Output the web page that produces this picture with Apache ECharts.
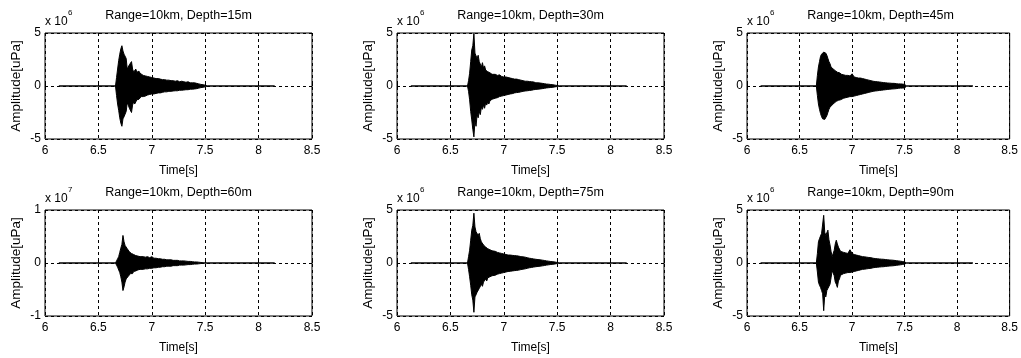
<!DOCTYPE html>
<html><head><meta charset="utf-8">
<script src="https://cdn.jsdelivr.net/npm/echarts/dist/echarts.min.js"></script>
<style>html,body{margin:0;padding:0;background:#fff}#c{width:1021px;height:358px}</style>
</head><body><div id="c"></div><script>
const TIME = [6.13,
  6.66,6.67,6.68,6.69,6.70,6.71,6.72,6.73,6.74,6.75,6.76,6.77,6.78,6.79,6.80,6.81,6.82,6.83,6.84,6.85,6.86,6.87,6.88,6.89,6.90,
  6.92,6.94,6.96,6.98,7.00,7.02,7.04,7.06,7.08,7.10,7.12,7.14,7.16,7.18,7.20,7.22,7.24,7.26,7.28,7.30,7.32,7.34,7.36,7.38,7.40,7.42,7.44,7.46,7.48,7.50,7.52,
  8.15];

const TITLES = ["Range=10km, Depth=15m","Range=10km, Depth=30m","Range=10km, Depth=45m",
                "Range=10km, Depth=60m","Range=10km, Depth=75m","Range=10km, Depth=90m"];
const EXPONENTS = [6,6,6,7,6,6];     // axis multiplier x 10^n
const Y_LIMITS = [5,5,5,1,5,5];      // y axis +/- limit (in multiplier units)
const X_MIN = 6, X_MAX = 8.5, X_STEP = 0.5;
const X_NAME = "Time[s]", Y_NAME = "Amplitude[uPa]";

// Upper / lower envelopes (in units of 10^EXPONENT uPa)
const UP_15 = [0, 0,0.8,1.6,2.4,3.0,3.5,3.8,3.3,3.0,3.0,2.6,1.6,1.5,2.0,1.9,2.3,1.6,1.3,1.4,1.6,1.3,1.2,1.4,1.2,1.05,
  1.0,0.95,0.9,0.85,0.8,0.75,0.7,0.7,0.65,0.6,0.6,0.55,0.55,0.5,0.5,0.45,0.5,0.4,0.45,0.4,0.35,0.4,0.3,0.3,0.3,0.25,0.2,0.15,0.12,0.08,0, 0];
const LO_15 = [0, 0,-0.9,-1.7,-2.3,-3.0,-3.5,-3.8,-3.1,-2.9,-2.8,-2.4,-1.6,-1.8,-2.1,-2.0,-2.5,-1.8,-1.5,-1.7,-1.8,-1.3,-1.3,-1.25,-1.15,-1.0,
  -1.0,-0.95,-0.85,-0.8,-0.75,-0.75,-0.7,-0.65,-0.65,-0.6,-0.55,-0.55,-0.5,-0.5,-0.47,-0.45,-0.45,-0.4,-0.4,-0.38,-0.35,-0.35,-0.3,-0.3,-0.28,-0.25,-0.2,-0.15,-0.12,-0.08,0, 0];

const UP_30 = [0, 0,0.5,1.2,2.3,3.4,3.8,4.95,3.1,3.2,2.6,2.9,2.3,2.4,1.8,2.2,1.7,1.9,1.5,1.65,1.35,1.5,1.25,1.35,1.1,1.25,
  1.1,1.0,1.05,0.9,0.85,0.85,0.8,0.75,0.7,0.65,0.65,0.6,0.55,0.5,0.45,0.45,0.42,0.4,0.38,0.3,0.3,0.28,0.25,0.22,0.18,0.17,0.14,0.12,0.08,0.05,0, 0];
const LO_30 = [0, 0,-0.5,-1.3,-2.4,-3.2,-4.1,-4.8,-3.3,-3.8,-2.7,-3.0,-2.4,-2.7,-2.0,-2.2,-1.8,-2.1,-1.6,-1.8,-1.5,-1.7,-1.4,-1.5,-1.25,-1.3,
  -1.15,-1.1,-1.0,-0.95,-0.9,-0.85,-0.8,-0.75,-0.72,-0.65,-0.62,-0.6,-0.55,-0.5,-0.47,-0.45,-0.42,-0.4,-0.35,-0.32,-0.3,-0.28,-0.25,-0.22,-0.18,-0.16,-0.14,-0.12,-0.08,-0.05,0, 0];

const UP_45 = [0, 0,1.0,1.8,2.3,2.8,3.0,3.1,3.2,3.3,3.1,2.9,2.6,2.3,2.1,1.8,1.75,1.6,1.5,1.45,1.35,1.3,1.2,1.25,1.1,1.1,
  1.05,1.0,1.0,0.95,1.15,0.85,0.8,0.75,0.75,0.7,0.65,0.6,0.55,0.5,0.45,0.42,0.4,0.38,0.35,0.32,0.3,0.28,0.27,0.25,0.25,0.22,0.2,0.2,0.18,0.15,0, 0];
const LO_45 = [0, 0,-0.9,-1.7,-2.2,-2.6,-2.9,-3.1,-3.2,-3.15,-3.0,-2.8,-2.5,-2.2,-2.0,-1.9,-1.8,-1.7,-1.6,-1.5,-1.45,-1.4,-1.35,-1.3,-1.3,-1.2,
  -1.15,-1.1,-1.05,-1.0,-1.0,-0.95,-0.9,-0.85,-0.8,-0.75,-0.7,-0.65,-0.6,-0.55,-0.5,-0.47,-0.45,-0.42,-0.4,-0.37,-0.35,-0.32,-0.3,-0.28,-0.27,-0.25,-0.22,-0.2,-0.2,-0.18,0, 0];

const UP_60 = [0, 0,0.04,0.08,0.12,0.2,0.28,0.35,0.52,0.4,0.33,0.3,0.27,0.25,0.21,0.2,0.18,0.2,0.16,0.16,0.14,0.15,0.13,0.14,0.12,0.13,
  0.12,0.11,0.12,0.1,0.12,0.09,0.09,0.08,0.08,0.07,0.07,0.06,0.06,0.06,0.05,0.05,0.05,0.04,0.04,0.04,0.035,0.03,0.03,0.025,0.02,0.02,0.015,0.01,0.005,0,0, 0];
const LO_60 = [0, 0,-0.04,-0.08,-0.11,-0.18,-0.26,-0.36,-0.52,-0.45,-0.36,-0.3,-0.28,-0.25,-0.22,-0.2,-0.18,-0.2,-0.16,-0.17,-0.15,-0.15,-0.13,-0.14,-0.12,-0.12,
  -0.12,-0.11,-0.11,-0.1,-0.1,-0.09,-0.09,-0.08,-0.08,-0.07,-0.07,-0.06,-0.06,-0.06,-0.05,-0.05,-0.05,-0.04,-0.04,-0.04,-0.035,-0.03,-0.03,-0.025,-0.02,-0.02,-0.015,-0.01,-0.005,0,0, 0];

const UP_75 = [0, 0,0.6,1.2,2.15,3.1,3.55,4.7,3.4,2.95,3.1,2.6,2.8,2.3,2.0,2.15,1.7,1.85,1.5,1.65,1.35,1.5,1.25,1.35,1.15,1.2,
  1.1,1.0,0.95,0.9,0.85,0.8,0.75,0.75,0.72,0.7,0.68,0.65,0.6,0.58,0.55,0.5,0.45,0.42,0.38,0.35,0.32,0.3,0.27,0.24,0.2,0.17,0.14,0.12,0.09,0.05,0, 0];
const LO_75 = [0, 0,-0.6,-1.3,-2.1,-3.0,-3.5,-4.65,-3.2,-3.0,-2.75,-2.9,-2.4,-2.3,-2.0,-2.2,-1.8,-1.8,-1.5,-1.7,-1.4,-1.5,-1.3,-1.3,-1.2,-1.2,
  -1.15,-1.05,-1.0,-0.95,-0.9,-0.85,-0.8,-0.78,-0.75,-0.72,-0.7,-0.67,-0.62,-0.58,-0.55,-0.5,-0.45,-0.42,-0.38,-0.35,-0.32,-0.3,-0.27,-0.24,-0.2,-0.17,-0.14,-0.12,-0.09,-0.05,0, 0];

const UP_90 = [0, 0,0.9,2.0,2.3,2.45,2.8,2.95,4.5,2.9,2.6,2.5,3.1,2.2,1.7,1.1,0.6,0.6,1.2,1.8,2.15,1.8,1.5,1.35,1.1,1.05,
  1.0,0.95,0.9,1.25,0.9,0.8,0.75,0.7,0.65,0.6,0.58,0.55,0.52,0.5,0.45,0.42,0.4,0.38,0.36,0.35,0.32,0.3,0.28,0.27,0.25,0.22,0.2,0.17,0.14,0.1,0, 0];
const LO_90 = [0, 0,-0.85,-1.8,-2.1,-2.3,-2.6,-2.9,-4.5,-3.0,-3.2,-2.6,-2.4,-2.3,-2.0,-1.4,-0.7,-0.6,-1.2,-1.8,-2.0,-2.3,-1.7,-1.5,-1.15,-1.0,
  -1.0,-0.95,-0.9,-0.9,-0.85,-0.8,-0.75,-0.7,-0.65,-0.6,-0.58,-0.55,-0.52,-0.5,-0.45,-0.42,-0.4,-0.38,-0.36,-0.35,-0.32,-0.3,-0.28,-0.27,-0.25,-0.22,-0.2,-0.17,-0.14,-0.1,0, 0];

const UPPERS = [UP_15, UP_30, UP_45, UP_60, UP_75, UP_90];
const LOWERS = [LO_15, LO_30, LO_45, LO_60, LO_75, LO_90];

const FONT = "Liberation Sans, Arial, Helvetica, sans-serif";
const LEFTS = [45, 397, 747], TOPS = [33, 210], W = 267, H = 106;

const grid = [], xAxis = [], yAxis = [], series = [], graphic = [];
for (let p = 0; p < 6; p++) {
  const col = p % 3, row = Math.floor(p / 3);
  const L = LEFTS[col], Tp = TOPS[row];
  grid.push({left: L, top: Tp, width: W, height: H, show: true, borderColor: '#000', borderWidth: 1, backgroundColor: '#fff'});
  xAxis.push({type: 'value', gridIndex: p, min: X_MIN, max: X_MAX, interval: X_STEP,
    name: X_NAME, nameLocation: 'middle', nameGap: 26,
    nameTextStyle: {color: '#000', fontFamily: FONT, fontSize: 12},
    axisLine: {show: false}, axisTick: {show: true, inside: true, length: 3, lineStyle: {color: '#000'}},
    axisLabel: {color: '#000', fontFamily: FONT, fontSize: 12, margin: 6, showMinLabel: true, showMaxLabel: true},
    splitLine: {show: true, lineStyle: {color: '#000', type: [3, 3], width: 1}}});
  yAxis.push({type: 'value', gridIndex: p, min: -Y_LIMITS[p], max: Y_LIMITS[p], interval: Y_LIMITS[p],
    name: Y_NAME, nameLocation: 'middle', nameGap: 22,
    nameTextStyle: {color: '#000', fontFamily: FONT, fontSize: 13.5},
    axisLine: {show: false}, axisTick: {show: true, inside: true, length: 3, lineStyle: {color: '#000'}},
    axisLabel: {color: '#000', fontFamily: FONT, fontSize: 12, margin: 4},
    splitLine: {show: true, lineStyle: {color: '#000', type: [3, 3], width: 1}}});
  [UPPERS[p], LOWERS[p]].forEach(arr => {
    series.push({type: 'line', xAxisIndex: p, yAxisIndex: p, symbol: 'none', silent: true,
      data: TIME.map((t, i) => [t, arr[i]]),
      lineStyle: {color: '#000', width: 1}, areaStyle: {color: '#000', opacity: 1}, z: 3});
  });
  const yOff = row === 0 ? 0 : 177;
  graphic.push({type: 'text', x: L + W / 2, y: 16 + yOff,
    style: {text: TITLES[p], font: '12.5px ' + FONT, fill: '#000', align: 'center', verticalAlign: 'middle'}});
  graphic.push({type: 'text', x: L, y: 22 + yOff,
    style: {text: 'x 10', font: '12px ' + FONT, fill: '#000', align: 'left', verticalAlign: 'middle'}});
  graphic.push({type: 'text', x: L + 23, y: 13 + yOff,
    style: {text: String(EXPONENTS[p]), font: '8px ' + FONT, fill: '#000', align: 'left', verticalAlign: 'middle'}});
}

const chart = echarts.init(document.getElementById('c'), null, {renderer: 'canvas'});
chart.setOption({animation: false, backgroundColor: '#fff', grid, xAxis, yAxis, series, graphic});
</script></body></html>
